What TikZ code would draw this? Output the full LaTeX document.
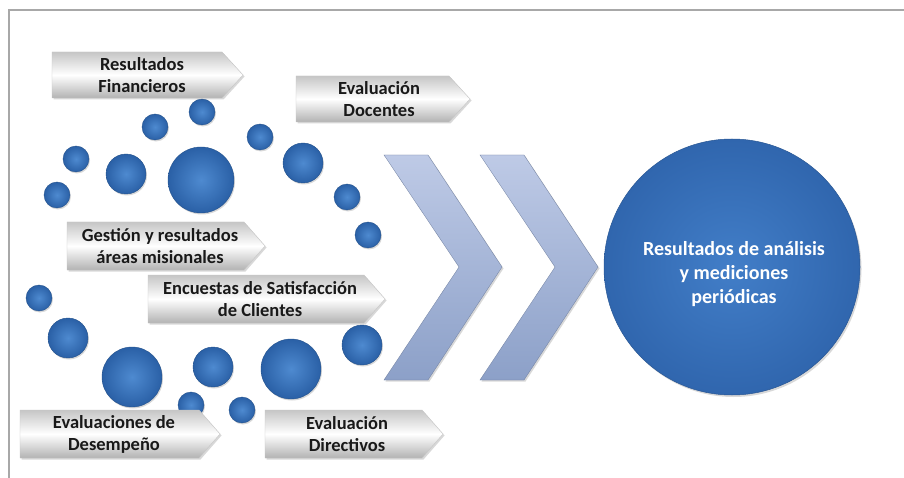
\documentclass[tikz,border=0pt]{standalone}
\usepackage{fontspec}
\setmainfont{Carlito}
\usetikzlibrary{shadows}
\definecolor{bubin}{RGB}{78,138,208}
\definecolor{bubout}{RGB}{42,96,166}
\definecolor{bigin}{RGB}{66,126,200}
\definecolor{bigout}{RGB}{48,102,174}
\definecolor{chevtop}{RGB}{190,202,230}
\definecolor{chevbot}{RGB}{140,160,200}
\definecolor{framegray}{RGB}{168,168,168}
\begin{document}
\begin{tikzpicture}[x=1pt,y=-1pt,
  bub/.style={circle, inner sep=0pt, draw=bubout!85!black, line width=0.4pt,
    inner color=bubin, outer color=bubout,
    drop shadow={opacity=0.3, shadow xshift=1pt, shadow yshift=-1.5pt}},
  bigc/.style={circle, inner sep=0pt, draw=bigout!85!black, line width=0.5pt,
    inner color=bigin, outer color=bigout,
    drop shadow={opacity=0.3, shadow xshift=1.5pt, shadow yshift=-2pt}},
  banner/.style={draw=gray!45, line width=0.4pt, top color=gray!45, bottom color=gray!60,
    middle color=white,
    drop shadow={opacity=0.3, shadow xshift=1.5pt, shadow yshift=-1.5pt}},
  btext/.style={align=center, font=\bfseries\fontsize{18.5}{22}\selectfont,
    text=black!90, inner sep=0pt},
  chev/.style={top color=chevtop, bottom color=chevbot, draw=chevbot!80!black,
    line width=0.3pt,
    drop shadow={opacity=0.3, shadow xshift=1.5pt, shadow yshift=-1.5pt}}]
\useasboundingbox (0,0) rectangle (904,478);
\fill[white] (0,0) rectangle (904,478);
% frame
\draw[framegray, line width=1.5pt] (9,478) |- (904,10);

% small bubbles (upper group)
\node[bub, minimum size=26] (c1) at (57,195) {};
\node[bub, minimum size=26] (c2) at (76,159) {};
\node[bub, minimum size=40] (c3) at (126,174) {};
\node[bub, minimum size=66] (c4) at (201,180) {};
\node[bub, minimum size=26] (c5) at (155,127) {};
\node[bub, minimum size=26] (c6) at (202,112) {};
\node[bub, minimum size=26] (c7) at (260,137) {};
\node[bub, minimum size=40] (c8) at (303,163) {};
\node[bub, minimum size=26] (c9) at (347,197) {};
\node[bub, minimum size=26] (c10) at (368,235) {};
% lower group
\node[bub, minimum size=26] (c11) at (39,298) {};
\node[bub, minimum size=40] (c12) at (68,338) {};
\node[bub, minimum size=60] (c13) at (132,377) {};
\node[bub, minimum size=40] (c14) at (213,367) {};
\node[bub, minimum size=60] (c15) at (291,369) {};
\node[bub, minimum size=40] (c16) at (362,345) {};
\node[bub, minimum size=26] (c17) at (191,405) {};
\node[bub, minimum size=26] (c18) at (242,410) {};

% banners
\path[banner] (52,52) -- (222,52) -- (243,75) -- (222,98) -- (52,98) -- cycle;
\node[btext] (b1) at (142,75) {Resultados\\Financieros};
\path[banner] (296,76) -- (449,76) -- (470,99) -- (449,122) -- (296,122) -- cycle;
\node[btext] (b2) at (379,99) {Evaluación\\Docentes};
\path[banner] (67,222) -- (244,222) -- (265,246) -- (244,270) -- (67,270) -- cycle;
\node[btext] (b3) at (160,246) {Gestión y resultados\\áreas misionales};
\path[banner] (148,275) -- (364,275) -- (385,299) -- (364,323) -- (148,323) -- cycle;
\node[btext] (b4) at (260,299) {Encuestas de Satisfacción\\de Clientes};
\path[banner] (20,410) -- (199,410) -- (220,434) -- (199,458) -- (20,458) -- cycle;
\node[btext] (b5) at (114,434) {Evaluaciones de\\Desempeño};
\path[banner] (265,410) -- (422,410) -- (443,434) -- (422,458) -- (265,458) -- cycle;
\node[btext] (b6) at (347,434) {Evaluación\\Directivos};

% chevrons
\path[chev] (384,155) -- (428,155) -- (502,267) -- (428,380) -- (384,380) -- (459,267) -- cycle;
\path[chev] (480,155) -- (524,155) -- (598,267) -- (524,380) -- (480,380) -- (555,267) -- cycle;

% big circle
\node[bigc, minimum size=256] (big) at (732,267) {};
\node[text=white, align=center, font=\bfseries\fontsize{20}{24}\selectfont, inner sep=0pt] (bigt) at (734,274) {Resultados de análisis\\y mediciones\\periódicas};
\end{tikzpicture}
\end{document}
